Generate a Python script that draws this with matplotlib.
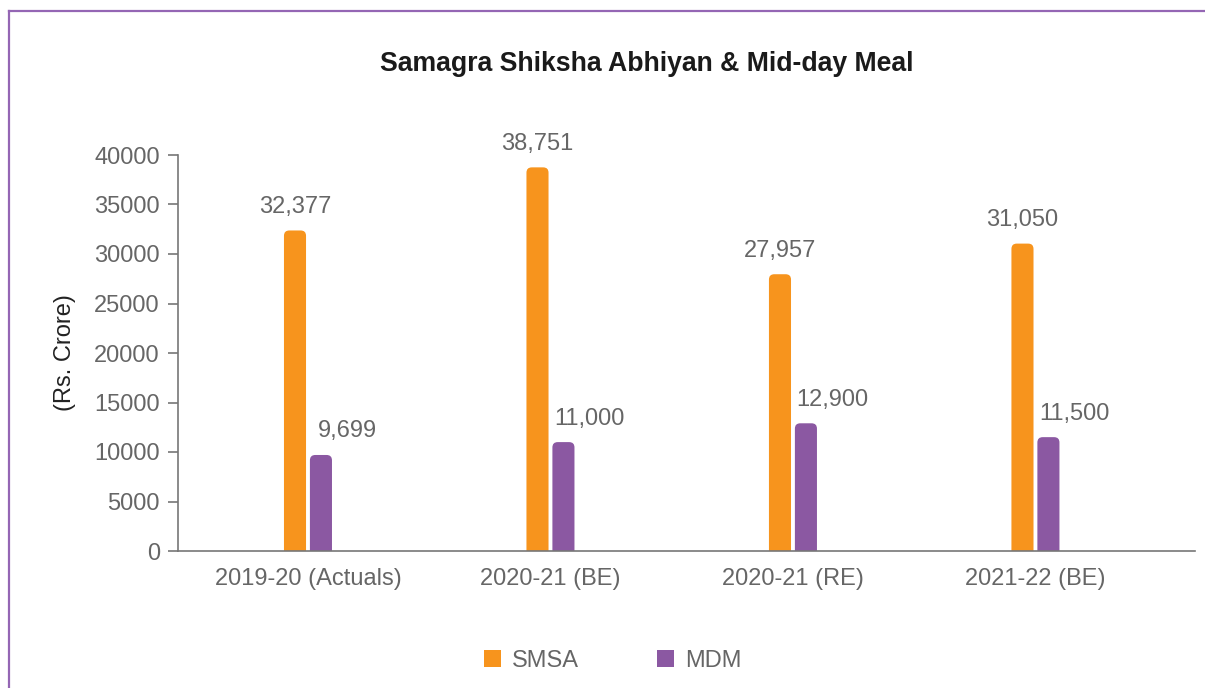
import numpy as np
import matplotlib.pyplot as plt
from matplotlib.patches import FancyBboxPatch, Patch
from matplotlib.lines import Line2D

plt.rcParams['font.family'] = ['Liberation Sans', 'DejaVu Sans']

# Data
years = ['2019-20 (Actuals)', '2020-21 (BE)', '2020-21 (RE)', '2021-22 (BE)']
smsa = [32377, 38751, 27957, 31050]
mdm = [9699, 11000, 12900, 11500]
yticks = [0, 5000, 10000, 15000, 20000, 25000, 30000, 35000, 40000]

c_smsa = '#F7941D'
c_mdm = '#8B58A2'
grey = '#666666'

fig = plt.figure(figsize=(12.05, 6.88), dpi=100)
ax = fig.add_axes([178 / 1205, 1 - 551 / 688, (1195 - 178) / 1205, (551 - 155) / 688])

x = np.arange(len(years))
w = 0.091
gap = 0.016
ax.set_xlim(-0.536, 3.658)
ax.set_ylim(0, 40000)

# rounded-top bars (bottom pushed below zero and clipped)
rad_x = 0.022
aspect = 40000 / 396 * 242.5  # data units per px in y / data units per px in x
rad_y = rad_x * aspect
for xs, vals, col in [(x - w / 2 - gap / 2, smsa, c_smsa), (x + w / 2 + gap / 2, mdm, c_mdm)]:
    for xi, v in zip(xs, vals):
        p = FancyBboxPatch((xi - w / 2, -2 * rad_y), w, v + 2 * rad_y,
                           boxstyle=f"round,pad=0,rounding_size={rad_x}",
                           mutation_aspect=aspect, fc=col, ec='none', lw=0)
        ax.add_patch(p)

# value labels
for xi, v in zip(x - w / 2 - gap / 2, smsa):
    ax.annotate(f'{v:,}', (xi, v), xytext=(0, 9), textcoords='offset points',
                ha='center', va='bottom', fontsize=17, color=grey)
for xi, v in zip(x + w / 2 + gap / 2, mdm):
    ax.annotate(f'{v:,}', (xi, v), xytext=(19, 9), textcoords='offset points',
                ha='center', va='bottom', fontsize=17, color=grey)

ax.set_xticks(x)
ax.set_xticklabels(years)
ax.set_yticks(yticks)
ax.tick_params(axis='x', length=0, pad=12, labelsize=17, labelcolor=grey)
ax.tick_params(axis='y', length=7, width=1.2, color='#777777', pad=6, labelsize=17, labelcolor=grey)

for s in ['top', 'right']:
    ax.spines[s].set_visible(False)
for s in ['left', 'bottom']:
    ax.spines[s].set_color('#777777')
    ax.spines[s].set_linewidth(1.2)

ax.set_ylabel('(Rs. Crore)', fontsize=17, color='#222222', labelpad=13)

fig.text(647 / 1205, 1 - 64 / 688, 'Samagra Shiksha Abhiyan & Mid-day Meal',
         ha='center', va='center', fontsize=19.2, fontweight='bold', color='#1a1a1a')

handles = [Patch(facecolor=c_smsa, edgecolor='none'), Patch(facecolor=c_mdm, edgecolor='none')]
fig.legend(handles, ['SMSA', 'MDM'], loc='center', ncol=2,
           bbox_to_anchor=(613 / 1205, 1 - 661 / 688), frameon=False,
           fontsize=17, labelcolor=grey, handlelength=0.72, handleheight=0.72,
           handletextpad=0.47, columnspacing=3.3)

# outer frame (top and left)
fcol = '#9466b4'
fig.add_artist(Line2D([9 / 1205, 1], [1 - 11 / 688, 1 - 11 / 688], color=fcol, lw=1.6))
fig.add_artist(Line2D([9 / 1205, 9 / 1205], [0, 1 - 11 / 688], color=fcol, lw=1.6))

fig.savefig('out.png', dpi=100)
